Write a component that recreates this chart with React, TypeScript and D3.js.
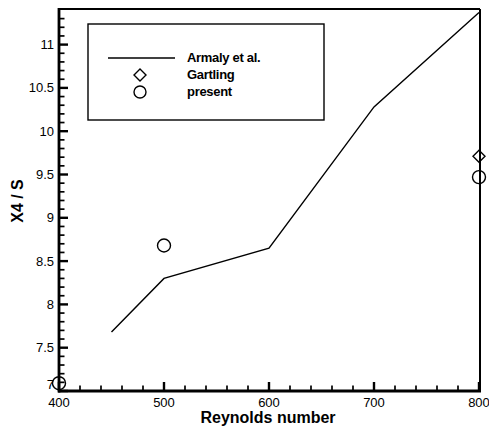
import { useEffect, useRef } from "react";
import * as d3 from "d3";

// Armaly et al. (experiment) — line
const armalyRe = [450, 500, 600, 700, 800];
const armalyX4 = [7.68, 8.3, 8.65, 10.28, 11.37];

// Gartling — diamond
const gartlingRe = [800];
const gartlingX4 = [9.71];

// present — circles
const presentRe = [400, 500, 800];
const presentX4 = [7.09, 8.68, 9.47];

const xTicks = [400, 500, 600, 700, 800];
const yTicks = [7, 7.5, 8, 8.5, 9, 9.5, 10, 10.5, 11];

const W = 489;
const H = 433;
const PLOT = { left: 59, right: 480, top: 9, bottom: 391 };
const FONT = "'Liberation Sans', Arial, Helvetica, sans-serif";
const TICK = "#000";

export default function App() {
  const svgRef = useRef<SVGSVGElement | null>(null);

  useEffect(() => {
    const svg = svgRef.current;
    if (!svg) return;
    svg.innerHTML = "";
    const root = d3.select(svg);

    const x = d3.scaleLinear().domain([400, 800]).range([PLOT.left, 479]);
    const y = d3.scaleLinear().domain([7, 11]).range([PLOT.bottom, 44.6]);

    // minor ticks
    const xMinor = d3.range(400, 801, 20).filter((v) => v % 100 !== 0);
    const yMinor = d3.range(70, 115, 1)
      .map((v) => v / 10)
      .filter((v) => Math.round(v * 10) % 5 !== 0 && y(v) > PLOT.top + 2);

    // frame
    root.append("line").attr("x1", PLOT.left).attr("x2", PLOT.right)
      .attr("y1", PLOT.top).attr("y2", PLOT.top).attr("stroke", "#000").attr("stroke-width", 2);
    root.append("line").attr("x1", PLOT.right).attr("x2", PLOT.right)
      .attr("y1", PLOT.top).attr("y2", PLOT.bottom).attr("stroke", "#000").attr("stroke-width", 2);
    root.append("line").attr("x1", PLOT.left).attr("x2", PLOT.left)
      .attr("y1", PLOT.top - 1).attr("y2", PLOT.bottom + 1.5).attr("stroke", "#000").attr("stroke-width", 2.8);
    root.append("line").attr("x1", PLOT.left - 1).attr("x2", PLOT.right + 1)
      .attr("y1", PLOT.bottom).attr("y2", PLOT.bottom).attr("stroke", "#000").attr("stroke-width", 2.8);

    const ax = root.append("g");
    ax.selectAll("line.xmaj").data(xTicks).join("line").attr("class", "xmaj")
      .attr("x1", (d) => x(d)).attr("x2", (d) => x(d))
      .attr("y1", PLOT.bottom).attr("y2", PLOT.bottom - 9)
      .attr("stroke", TICK).attr("stroke-width", 2.4);
    ax.selectAll("line.xmin").data(xMinor).join("line").attr("class", "xmin")
      .attr("x1", (d) => x(d)).attr("x2", (d) => x(d))
      .attr("y1", PLOT.bottom).attr("y2", PLOT.bottom - 5.5)
      .attr("stroke", TICK).attr("stroke-width", 1.7);
    ax.selectAll("line.ymaj").data(yTicks).join("line").attr("class", "ymaj")
      .attr("x1", PLOT.left).attr("x2", PLOT.left + 9)
      .attr("y1", (d) => y(d)).attr("y2", (d) => y(d))
      .attr("stroke", TICK).attr("stroke-width", 2.4);
    ax.selectAll("line.ymin").data(yMinor).join("line").attr("class", "ymin")
      .attr("x1", PLOT.left).attr("x2", PLOT.left + 5.5)
      .attr("y1", (d) => y(d)).attr("y2", (d) => y(d))
      .attr("stroke", TICK).attr("stroke-width", 1.7);

    // tick labels
    root.selectAll("text.xl").data(xTicks).join("text").attr("class", "xl")
      .attr("x", (d) => x(d)).attr("y", 407)
      .attr("text-anchor", "middle")
      .attr("font-family", FONT).attr("font-size", 13)
      .text((d) => d);
    root.selectAll("text.yl").data(yTicks).join("text").attr("class", "yl")
      .attr("x", 54).attr("y", (d) => Math.min(y(d) + 4.5, 389))
      .attr("text-anchor", "end")
      .attr("font-family", FONT).attr("font-size", 13)
      .text((d) => d);

    // axis titles
    root.append("text").attr("x", 268).attr("y", 423)
      .attr("text-anchor", "middle").attr("font-family", FONT)
      .attr("font-weight", "bold").attr("font-size", 16)
      .text("Reynolds number");
    root.append("text").attr("transform", "translate(23,201) rotate(-90)")
      .attr("text-anchor", "middle").attr("font-family", FONT)
      .attr("font-weight", "bold").attr("font-size", 16)
      .text("X4 / S");

    // Armaly line
    const line = d3.line<number>().x((d) => x(d)).y((_, i) => y(armalyX4[i]));
    root.append("path").attr("d", line(armalyRe))
      .attr("fill", "none").attr("stroke", "#000").attr("stroke-width", 1.4);

    const diamond = (cx: number, cy: number, r: number) =>
      `M${cx},${cy - r}L${cx + r},${cy}L${cx},${cy + r}L${cx - r},${cy}Z`;

    root.selectAll("path.gart").data(gartlingRe).join("path").attr("class", "gart")
      .attr("d", (d, i) => diamond(x(d), y(gartlingX4[i]), 6))
      .attr("fill", "none").attr("stroke", "#000").attr("stroke-width", 1.4);

    root.selectAll("circle.pres").data(presentRe).join("circle").attr("class", "pres")
      .attr("cx", (d) => x(d)).attr("cy", (_, i) => y(presentX4[i])).attr("r", 6.5)
      .attr("fill", "none").attr("stroke", "#000").attr("stroke-width", 1.4);

    // legend
    const lg = root.append("g");
    lg.append("rect").attr("x", 88).attr("y", 24).attr("width", 236).attr("height", 96)
      .attr("fill", "#fff").attr("stroke", "#000").attr("stroke-width", 1.4);
    lg.append("line").attr("x1", 108).attr("x2", 175).attr("y1", 58).attr("y2", 58)
      .attr("stroke", "#000").attr("stroke-width", 1.4);
    lg.append("path").attr("d", diamond(140, 75, 6))
      .attr("fill", "none").attr("stroke", "#000").attr("stroke-width", 1.4);
    lg.append("circle").attr("cx", 140).attr("cy", 92).attr("r", 6)
      .attr("fill", "none").attr("stroke", "#000").attr("stroke-width", 1.4);
    const labels = ["Armaly et al.", "Gartling", "present"];
    lg.selectAll("text.lt").data(labels).join("text").attr("class", "lt")
      .attr("x", 187).attr("y", (_, i) => 62 + i * 17)
      .attr("font-family", FONT).attr("font-weight", "bold").attr("font-size", 13)
      .attr("letter-spacing", -0.3)
      .text((d) => d);
  }, []);

  return (
    <svg ref={svgRef} width={W} height={H}
      style={{ position: "absolute", left: 0, top: 0, background: "#fff" }} />
  );
}
